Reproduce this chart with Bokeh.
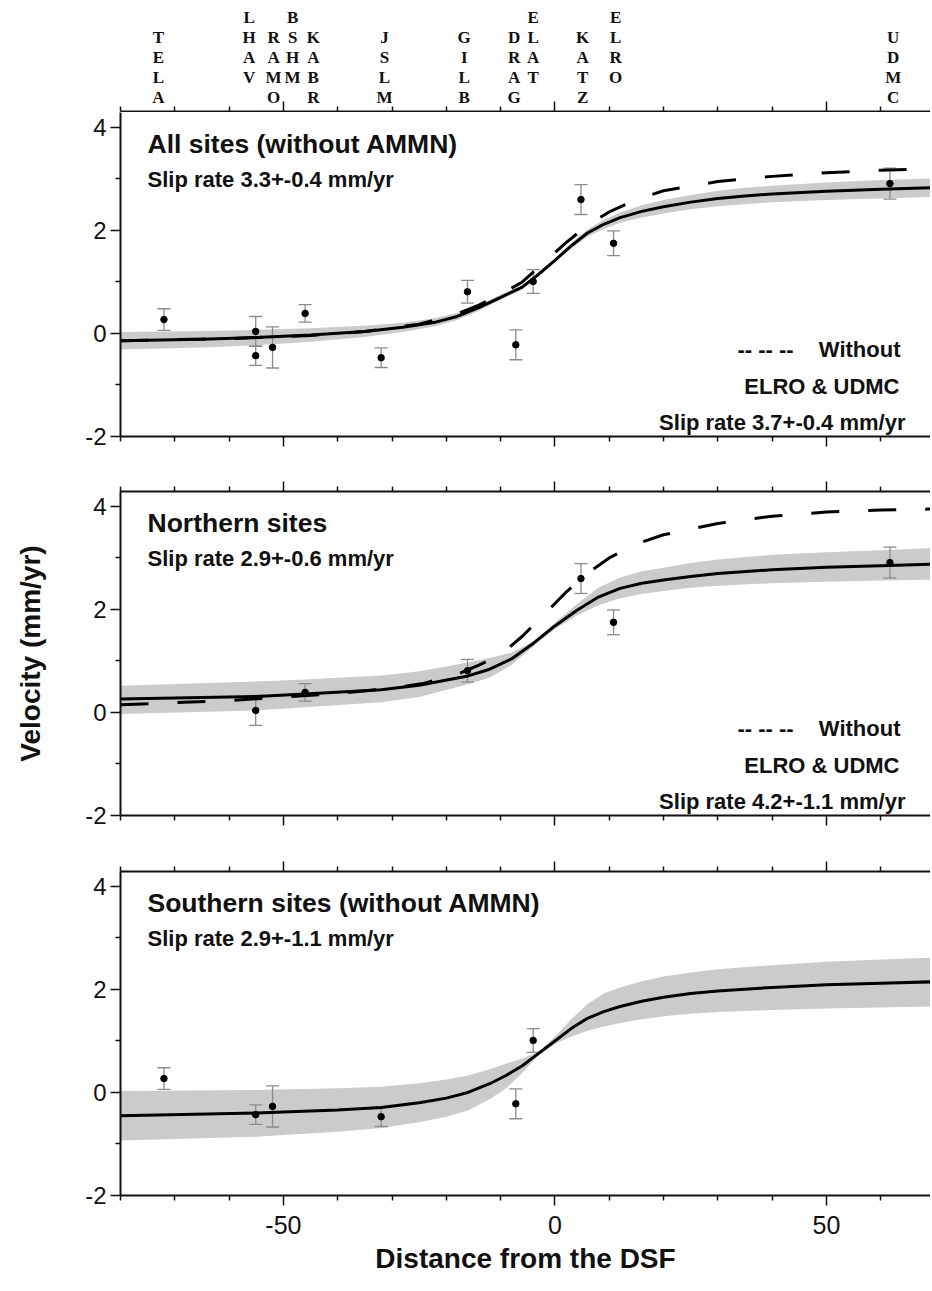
from bokeh.plotting import figure
from bokeh.models import LinearAxis, FixedTicker, Label, Range1d
from bokeh.layouts import column
from bokeh.embed import file_html
from bokeh.resources import INLINE
from bokeh.core.properties import value

# ---------------- data ----------------
stations = ["TELA", "LHAV", "RAMO", "BSHM", "KABR", "JSLM", "GILB", "DRAG", "ELAT", "KATZ", "ELRO", "UDMC"]
station_label_x = [-73.0, -56.3, -51.8, -48.3, -44.5, -31.4, -16.7, -7.5, -4.0, 5.1, 11.2, 62.3]
station_label_row = [1, 0, 1, 0, 1, 1, 1, 1, 0, 1, 0, 1]

north_x = [-55.1, -46.0, -16.1, 4.8, 10.8, 61.7]
north_v = [0.04, 0.39, 0.81, 2.60, 1.75, 2.91]
north_err = [0.29, 0.17, 0.22, 0.29, 0.24, 0.30]

south_x = [-72.0, -55.1, -52.0, -32.0, -7.2, -4.0]
south_v = [0.27, -0.43, -0.27, -0.47, -0.22, 1.01]
south_err = [0.21, 0.19, 0.40, 0.19, 0.29, 0.23]

# All sites model (solid) and envelope
all_x = [-80, -65, -55, -45, -35, -28, -22, -18, -14, -10, -6, -3, 0, 3, 6, 9, 12, 16, 20, 25, 30, 35, 40, 50, 60, 70]
all_v = [-0.14, -0.11, -0.08, -0.03, 0.04, 0.12, 0.22, 0.33, 0.50, 0.70, 0.90, 1.15, 1.42, 1.70, 1.95, 2.12, 2.25, 2.37, 2.46, 2.55, 2.62, 2.67, 2.71, 2.76, 2.80, 2.83]
all_lo = [-0.31, -0.27, -0.23, -0.16, -0.07, 0.03, 0.14, 0.26, 0.44, 0.65, 0.86, 1.12, 1.39, 1.65, 1.88, 2.03, 2.15, 2.25, 2.33, 2.41, 2.47, 2.51, 2.55, 2.59, 2.62, 2.65]
all_hi = [0.03, 0.05, 0.07, 0.10, 0.15, 0.21, 0.30, 0.40, 0.56, 0.75, 0.94, 1.18, 1.45, 1.75, 2.02, 2.21, 2.35, 2.49, 2.59, 2.69, 2.77, 2.83, 2.87, 2.93, 2.98, 3.01]
# All sites without ELRO & UDMC (dashed)
all_dash_x = [-80, -60, -45, -35, -25, -18, -14, -10, -6, -2, 2, 6, 10, 15, 20, 30, 40, 50, 60, 70]
all_dash_v = [-0.14, -0.10, -0.04, 0.04, 0.18, 0.38, 0.55, 0.76, 1.00, 1.38, 1.76, 2.10, 2.36, 2.60, 2.77, 2.95, 3.05, 3.12, 3.17, 3.20]

# Northern sites model
nor_x = [-80, -55, -46, -32, -25, -16, -12, -8, -4, 0, 4, 8, 12, 16, 20, 25, 30, 40, 50, 60, 70]
nor_v = [0.26, 0.31, 0.36, 0.44, 0.53, 0.71, 0.84, 1.04, 1.34, 1.68, 1.98, 2.24, 2.41, 2.51, 2.57, 2.64, 2.70, 2.77, 2.82, 2.85, 2.88]
nor_lo = [-0.03, 0.04, 0.10, 0.20, 0.30, 0.55, 0.68, 0.92, 1.28, 1.62, 1.88, 2.08, 2.22, 2.30, 2.36, 2.42, 2.46, 2.51, 2.54, 2.56, 2.58]
nor_hi = [0.52, 0.60, 0.64, 0.72, 0.80, 0.97, 1.06, 1.16, 1.38, 1.74, 2.10, 2.42, 2.62, 2.74, 2.81, 2.90, 2.97, 3.06, 3.11, 3.15, 3.19]
nor_dash_x = [-80, -70, -60, -50, -40, -30, -24, -18, -14, -10, -6, -2, 2, 6, 10, 15, 20, 30, 40, 50, 60, 70]
nor_dash_v = [0.15, 0.19, 0.23, 0.30, 0.37, 0.47, 0.57, 0.74, 0.92, 1.12, 1.48, 1.90, 2.33, 2.70, 3.00, 3.27, 3.45, 3.67, 3.81, 3.89, 3.93, 3.95]

# Southern sites model
sou_x = [-80, -55, -40, -32, -25, -20, -16, -12, -9, -6, -3, 0, 3, 6, 9, 12, 16, 20, 25, 30, 40, 50, 60, 70]
sou_v = [-0.45, -0.40, -0.34, -0.29, -0.20, -0.11, 0.00, 0.17, 0.33, 0.52, 0.76, 1.00, 1.24, 1.44, 1.57, 1.67, 1.77, 1.85, 1.92, 1.97, 2.04, 2.09, 2.12, 2.15]
sou_lo = [-0.93, -0.86, -0.76, -0.69, -0.58, -0.47, -0.35, -0.13, 0.08, 0.38, 0.73, 0.94, 1.08, 1.20, 1.28, 1.35, 1.42, 1.48, 1.53, 1.56, 1.60, 1.63, 1.65, 1.67]
sou_hi = [0.03, 0.05, 0.08, 0.11, 0.18, 0.25, 0.33, 0.45, 0.56, 0.66, 0.79, 1.08, 1.42, 1.72, 1.92, 2.04, 2.16, 2.25, 2.33, 2.39, 2.47, 2.54, 2.58, 2.62]

panel_titles = ["All sites (without AMMN)", "Northern sites", "Southern sites (without AMMN)"]
panel_rates = ["Slip rate 3.3+-0.4 mm/yr", "Slip rate 2.9+-0.6 mm/yr", "Slip rate 2.9+-1.1 mm/yr"]
legend_rates = ["Slip rate 3.7+-0.4 mm/yr", "Slip rate 4.2+-1.1 mm/yr"]

x_major = [-50, 0, 50]
x_major_labels = ["-50", "0", "50"]
x_minor = [-80, -70, -60, -40, -30, -20, -10, 10, 20, 30, 40, 60]
y_major = [-2, 0, 2, 4]
y_major_labels = ["-2", "0", "2", "4"]
y_minor = [-1, 1, 3]

# ---------------- layout constants ----------------
W = 930
LB = 120           # left border
FW = W - LB        # frame width in px
PXU = 5.43         # px per km along x
X0 = -80.0
X1 = X0 + FW / PXU
Y0, Y1 = -2.0, 4.29
FH = 324           # frame height in px
STRIP_H = 112      # height of the station-label strip (its bottom axis is panel 1's top edge)
SANS = "Liberation Sans"
BAND = "#cbcbcb"
ERR = "#8c8c8c"
INK = "#111111"


def xpx(px):
    return X0 + px * (X1 - X0) / FW


def ypx(py):
    return Y1 - py * (Y1 - Y0) / FH


def style_axis(ax, ticks, labels, minor, show, size="24px", inward=False):
    ax.ticker = FixedTicker(ticks=ticks, minor_ticks=minor)
    ax.axis_line_width = 2
    ax.axis_line_color = INK
    ax.major_tick_out = 0 if inward else 10
    ax.major_tick_in = 10 if inward else 0
    ax.minor_tick_out = 0 if inward else 5
    ax.minor_tick_in = 5 if inward else 0
    ax.major_tick_line_width = 1.5
    ax.minor_tick_line_width = 1.5
    ax.major_tick_line_color = INK
    ax.minor_tick_line_color = INK
    if show:
        ax.major_label_overrides = {t: s for t, s in zip(ticks, labels)}
        ax.major_label_text_font = SANS
        ax.major_label_text_font_size = size
        ax.major_label_text_color = INK
    else:
        ax.major_label_overrides = {t: "" for t in ticks}
        ax.major_label_text_font_size = "0px"
        ax.major_label_standoff = 0


def base_fig(height, top, bottom, y0, y1):
    p = figure(width=W, height=height, x_range=Range1d(X0, X1), y_range=Range1d(y0, y1),
               output_backend="svg", toolbar_location=None,
               min_border_left=LB, min_border_right=0, min_border_top=top, min_border_bottom=bottom,
               x_axis_location=None, y_axis_location=None)
    p.outline_line_color = None
    p.background_fill_color = "white"
    p.border_fill_color = "white"
    p.xgrid.grid_line_color = None
    p.ygrid.grid_line_color = None
    return p


def make_panel(height, top, bottom, xs, vs, es, mx, mv, lo, hi, dx=None, dv=None,
               title="", rate="", legend_rate=None, xlabels=False, ylabel=None, top_axis=True):
    p = base_fig(height, top, bottom, Y0, Y1)

    left = LinearAxis()
    style_axis(left, y_major, y_major_labels, y_minor, True, "24px")
    left.major_label_standoff = 4
    if ylabel:
        left.axis_label = ylabel
        left.axis_label_text_font = SANS
        left.axis_label_text_font_style = "bold"
        left.axis_label_text_font_size = "28px"
        left.axis_label_text_color = INK
        left.axis_label_standoff = 36
    p.add_layout(left, "left")

    below = LinearAxis()
    style_axis(below, x_major, x_major_labels, x_minor, xlabels, "25px")
    if xlabels:
        below.major_label_standoff = 10
        below.axis_label = "Distance from the DSF"
        below.axis_label_text_font = SANS
        below.axis_label_text_font_style = "bold"
        below.axis_label_text_font_size = "28px"
        below.axis_label_text_color = INK
        below.axis_label_standoff = 6
    p.add_layout(below, "below")

    if top_axis:
        above = LinearAxis()
        style_axis(above, x_major, x_major_labels, x_minor, False)
        p.add_layout(above, "above")

    # uncertainty envelope
    p.varea(x=mx, y1=lo, y2=hi, fill_color=BAND)

    # error bars
    lows = [v - e for v, e in zip(vs, es)]
    highs = [v + e for v, e in zip(vs, es)]
    p.segment(x0=xs, y0=lows, x1=xs, y1=highs, line_color=ERR, line_width=1.3)
    p.scatter(x=xs, y=lows, marker="dash", size=13, line_color=ERR, line_width=1.3)
    p.scatter(x=xs, y=highs, marker="dash", size=13, line_color=ERR, line_width=1.3)

    # model curves
    p.line(mx, mv, line_color="black", line_width=3)
    if dx is not None:
        p.line(dx, dv, line_color="black", line_width=3, line_dash="28 29")

    # data points
    p.scatter(x=xs, y=vs, size=6.5, fill_color="black", line_color="black")

    # texts
    p.add_layout(Label(x=xpx(27), y=ypx(31), text=title, text_font=SANS, text_font_style="bold",
                       text_font_size="26.5px", text_color=INK, text_baseline="alphabetic"))
    p.add_layout(Label(x=xpx(27), y=ypx(67), text=rate, text_font=SANS, text_font_style="bold",
                       text_font_size="22px", text_color=INK, text_baseline="alphabetic"))
    if legend_rate:
        p.add_layout(Label(x=xpx(617), y=ypx(237), text="-- -- --", text_font=SANS,
                           text_font_style="bold", text_font_size="22px", text_color=INK,
                           text_baseline="alphabetic"))
        p.add_layout(Label(x=xpx(780), y=ypx(237), text="Without", text_font=SANS,
                           text_font_style="bold", text_font_size="22px", text_color=INK,
                           text_baseline="alphabetic", text_align="right"))
        p.add_layout(Label(x=xpx(779), y=ypx(274), text="ELRO & UDMC", text_font=SANS,
                           text_font_style="bold", text_font_size="22px", text_color=INK,
                           text_baseline="alphabetic", text_align="right"))
        p.add_layout(Label(x=xpx(785), y=ypx(310), text=legend_rate, text_font=SANS,
                           text_font_style="bold", text_font_size="22px", text_color=INK,
                           text_baseline="alphabetic", text_align="right"))
    return p


# ---------------- station-name strip (its bottom axis is the top edge of panel 1) ----------------
ps = base_fig(STRIP_H, 0, 1, 0, STRIP_H - 1)
strip_axis = LinearAxis()
style_axis(strip_axis, x_major, x_major_labels, x_minor, False, inward=True)
ps.add_layout(strip_axis, "below")
lx, ly, lt = [], [], []
for name, sx, row in zip(stations, station_label_x, station_label_row):
    for i, ch in enumerate(name):
        lx.append(sx)
        ly.append(STRIP_H - 1 - (17 + 20 * (row + i)))
        lt.append(ch)
ps.text(x=lx, y=ly, text=lt, text_font=value("Liberation Serif"), text_font_style="bold",
        text_font_size="17px", text_color=INK, text_align="center", text_baseline="middle")

all_xs = north_x + south_x
all_vs = north_v + south_v
all_es = north_err + south_err

p1 = make_panel(351, 0, 27, all_xs, all_vs, all_es, all_x, all_v, all_lo, all_hi,
                all_dash_x, all_dash_v, panel_titles[0], panel_rates[0], legend_rates[0],
                top_axis=False)
p2 = make_panel(380, 28, 28, north_x, north_v, north_err, nor_x, nor_v, nor_lo, nor_hi,
                nor_dash_x, nor_dash_v, panel_titles[1], panel_rates[1], legend_rates[1],
                ylabel="Velocity (mm/yr)")
p3 = make_panel(447, 28, 95, south_x, south_v, south_err, sou_x, sou_v, sou_lo, sou_hi,
                None, None, panel_titles[2], panel_rates[2], None, xlabels=True)

layout = column(ps, p1, p2, p3)
open("out.html", "w").write(file_html(layout, INLINE))
